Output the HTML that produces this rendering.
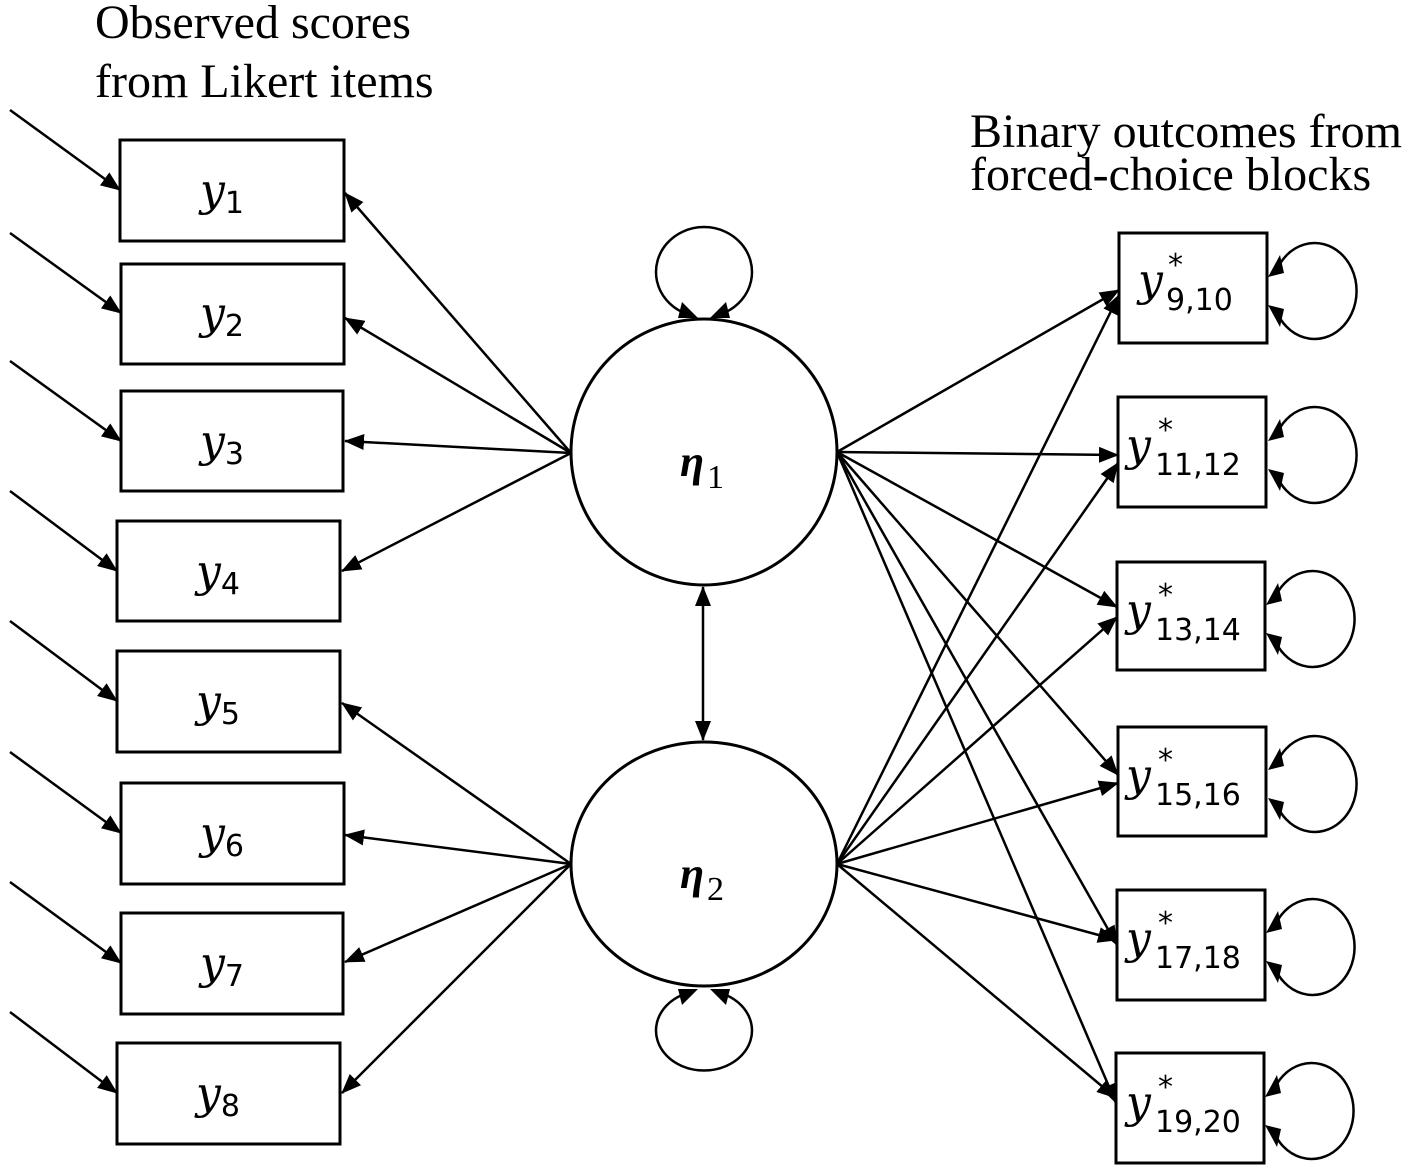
<!DOCTYPE html>
<html><head><meta charset="utf-8"><style>
body{margin:0;background:#fff}
svg{display:block}
.t{font-family:"Liberation Serif",serif;font-size:48px}
.y{font-family:"DejaVu Serif","Liberation Serif",serif;font-style:italic;font-size:44px}
.s{font-family:"DejaVu Sans","Liberation Sans",sans-serif;font-style:normal;font-size:30px}
</style></head><body>
<svg width="1417" height="1170" viewBox="0 0 1417 1170" xmlns="http://www.w3.org/2000/svg">
<defs>
<marker id="b" markerWidth="20" markerHeight="16" refX="19" refY="8" orient="auto" markerUnits="userSpaceOnUse"><path d="M0,0 L20,8 L0,16 z" fill="#000"/></marker></defs>
<g class="t"><text x="95" y="38">Observed scores</text><text x="95" y="97">from Likert items</text>
<text x="970" y="147">Binary outcomes from</text><text x="970" y="190">forced-choice blocks</text></g>
<g fill="none" stroke="#000" stroke-width="3">
<rect x="120" y="140" width="224" height="101"/>
<rect x="121" y="264" width="223" height="100"/>
<rect x="121" y="391" width="222" height="100"/>
<rect x="117" y="521" width="223" height="100"/>
<rect x="117" y="651" width="223" height="101"/>
<rect x="121" y="783" width="223" height="101"/>
<rect x="121" y="913" width="222" height="101"/>
<rect x="117" y="1043" width="223" height="101"/>
<rect x="1119" y="233" width="148" height="110"/>
<rect x="1118" y="397" width="148" height="110"/>
<rect x="1117" y="562" width="148" height="108"/>
<rect x="1118" y="727" width="148" height="109"/>
<rect x="1117" y="890" width="148" height="110"/>
<rect x="1116" y="1053" width="148" height="110"/>
<ellipse cx="704" cy="452" rx="133" ry="133"/>
<ellipse cx="704" cy="864" rx="133" ry="122"/>
</g>
<g fill="none" stroke="#000" stroke-width="2.5" marker-end="url(#b)">
<path d="M10,110 L120,190"/><path d="M10,233 L121,313"/><path d="M10,361 L121,441"/><path d="M10,491 L117,571"/>
<path d="M10,621 L117,701"/><path d="M10,752 L121,833"/><path d="M10,882 L121,963"/><path d="M10,1012 L117,1093"/>
<path d="M571,453 L345,193"/><path d="M571,453 L345,318"/><path d="M571,453 L345,441"/><path d="M571,453 L342,571"/>
<path d="M571,864 L342,703"/><path d="M571,864 L345,835"/><path d="M571,864 L345,962"/><path d="M571,864 L342,1093"/>
<path d="M837,452 L1119,290"/><path d="M837,452 L1118,455"/><path d="M837,452 L1117,607"/><path d="M837,452 L1118,775"/><path d="M837,452 L1117,945"/><path d="M837,452 L1116,1103"/>
<path d="M837,864 L1119,295"/><path d="M837,864 L1118,463"/><path d="M837,864 L1117,617"/><path d="M837,864 L1118,783"/><path d="M837,864 L1117,940"/><path d="M837,864 L1116,1098"/>
<path d="M703,660 L703,587"/><path d="M703,660 L703,740"/>
</g>
<g fill="none" stroke="#000" stroke-width="2.5">
<path d="M682,312 A48,45 0 1 1 726,312"/>
<path d="M682,995 A48,40 0 1 0 726,995"/>
<path d="M1276,272 A42,48 0 1 1 1276,310"/>
<path d="M1276,436 A42,48 0 1 1 1276,474"/>
<path d="M1274,600 A42,48 0 1 1 1274,638"/>
<path d="M1276,765 A42,48 0 1 1 1276,803"/>
<path d="M1274,928 A42,48 0 1 1 1274,966"/>
<path d="M1273,1092 A42,48 0 1 1 1273,1130"/>
</g>
<g fill="#000">
<path d="M698,318 l-20,0 l4,-16 z"/><path d="M710,318 l20,0 l-4,-16 z"/>
<path d="M698,989 l-20,0 l4,16 z"/><path d="M710,989 l20,0 l-4,16 z"/>
<g id="ra"><path d="M1268,277 l16,-4 l-4,-18 z"/><path d="M1268,305 l16,4 l-4,18 z"/></g>
<use href="#ra" y="164"/><use href="#ra" x="-2" y="328"/><use href="#ra" y="493"/><use href="#ra" x="-2" y="656"/><use href="#ra" x="-3" y="820"/>
</g>
<g class="y">
<text x="200" y="205">y<tspan class="s" dy="8">1</tspan></text>
<text x="200" y="328">y<tspan class="s" dy="8">2</tspan></text>
<text x="200" y="456">y<tspan class="s" dy="8">3</tspan></text>
<text x="196" y="586">y<tspan class="s" dy="8">4</tspan></text>
<text x="196" y="716">y<tspan class="s" dy="8">5</tspan></text>
<text x="200" y="848">y<tspan class="s" dy="8">6</tspan></text>
<text x="200" y="978">y<tspan class="s" dy="8">7</tspan></text>
<text x="196" y="1108">y<tspan class="s" dy="8">8</tspan></text>
<text x="1138" y="295">y</text><text class="s" x="1168" y="275">*</text><text class="s" x="1166" y="310">9,10</text>
<text x="1126" y="460">y</text><text class="s" x="1158" y="440">*</text><text class="s" x="1155" y="475">11,12</text>
<text x="1126" y="625">y</text><text class="s" x="1158" y="605">*</text><text class="s" x="1155" y="640">13,14</text>
<text x="1126" y="790">y</text><text class="s" x="1158" y="770">*</text><text class="s" x="1155" y="805">15,16</text>
<text x="1126" y="953">y</text><text class="s" x="1158" y="933">*</text><text class="s" x="1155" y="968">17,18</text>
<text x="1126" y="1117">y</text><text class="s" x="1158" y="1097">*</text><text class="s" x="1155" y="1132">19,20</text>
</g>
<g font-family="Liberation Serif,serif"><text x="680" y="476" font-size="44" font-weight="bold" font-style="italic">η</text><text x="707" y="488" font-size="34">1</text>
<text x="680" y="888" font-size="44" font-weight="bold" font-style="italic">η</text><text x="707" y="900" font-size="34">2</text></g>
</svg>
</body></html>
